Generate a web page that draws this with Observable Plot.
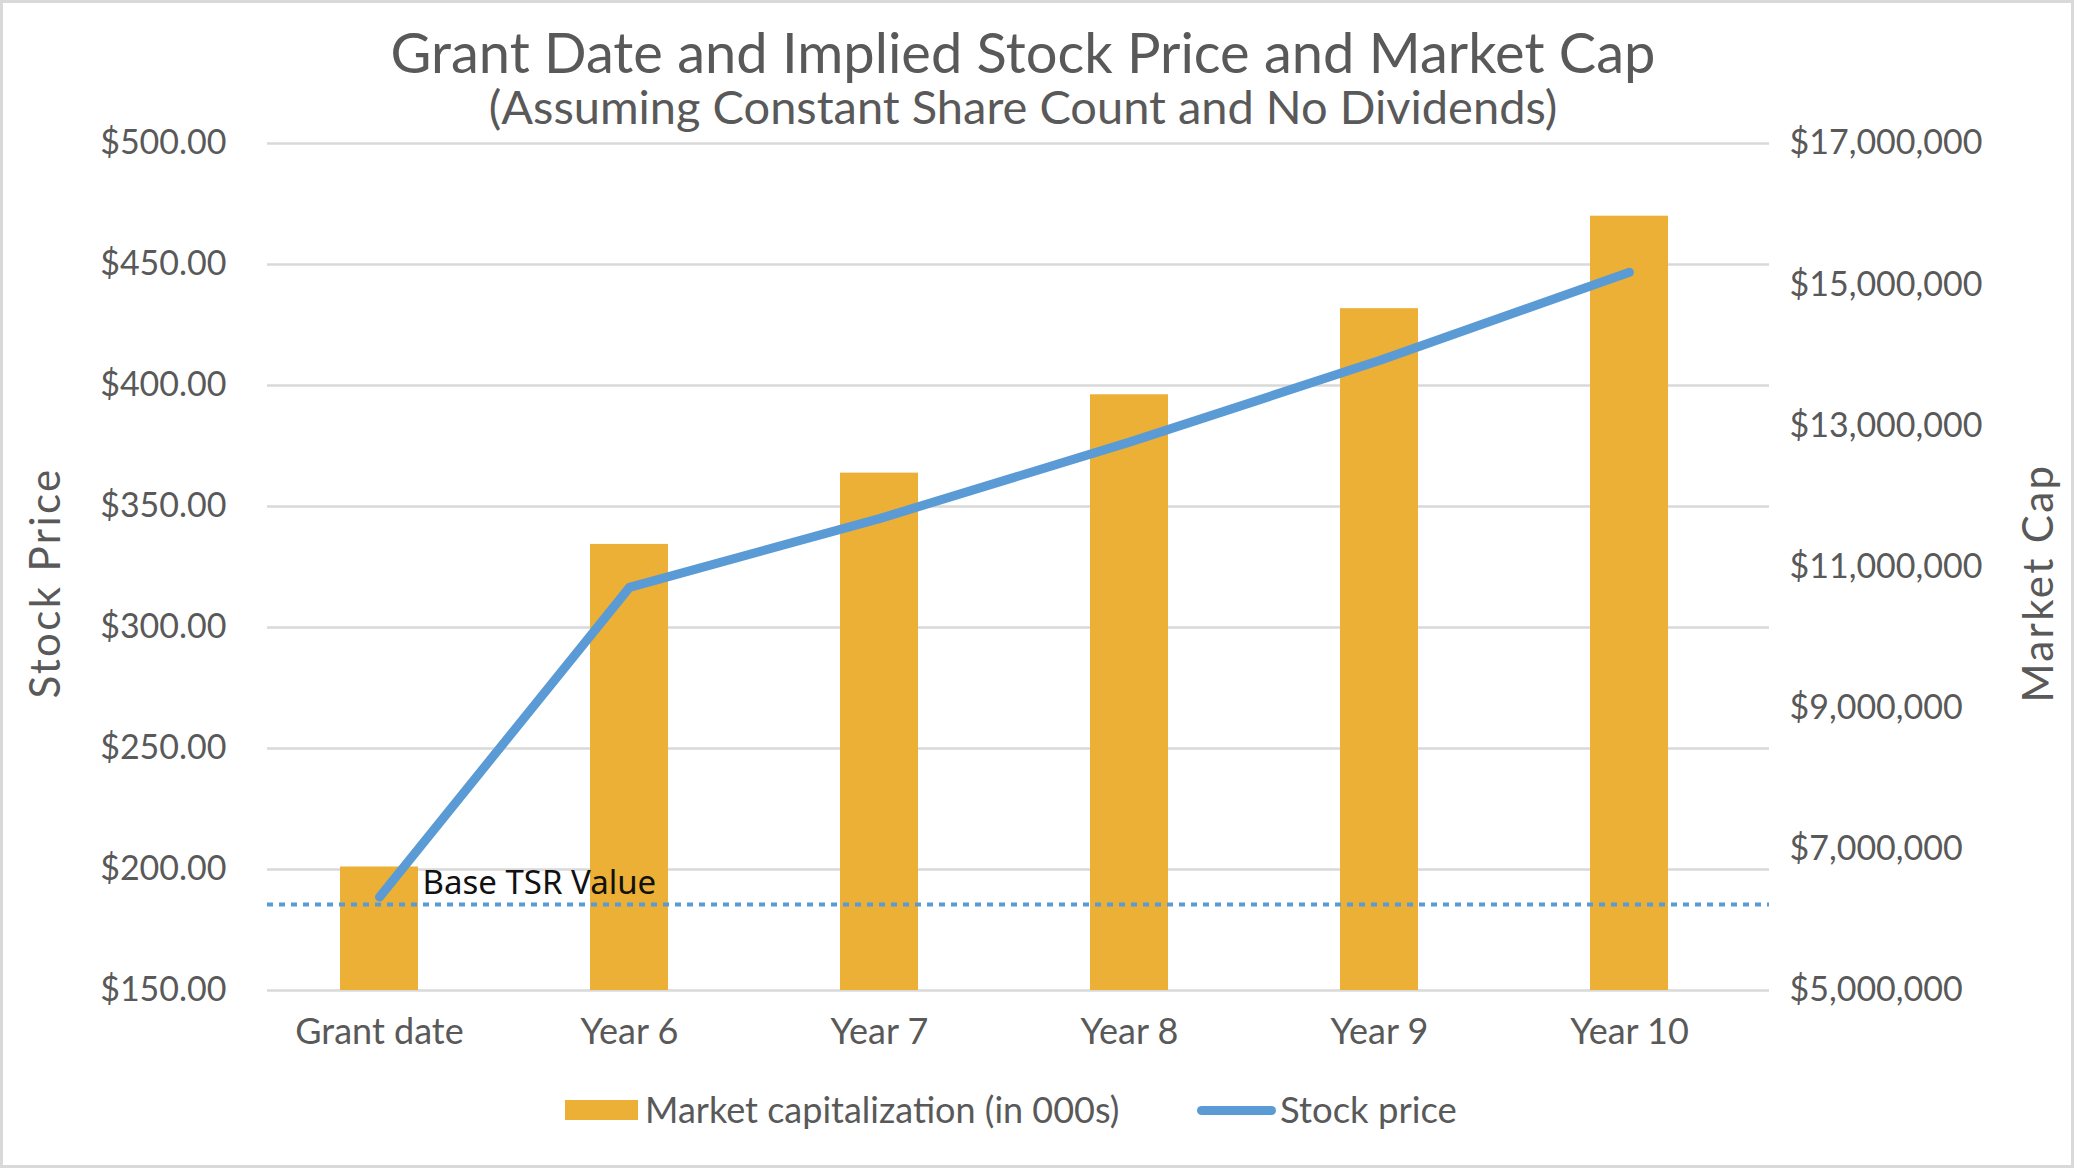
<!DOCTYPE html>
<html>
<head>
<meta charset="utf-8">
<script src="https://cdn.jsdelivr.net/npm/d3@7"></script>
<script src="https://cdn.jsdelivr.net/npm/@observablehq/plot@0.6"></script>
<style>
  body { margin: 0; background: #fff; }
  #wrap { position: relative; width: 2074px; height: 1168px; overflow: hidden; font-family: Lato, sans-serif; color: #595959; background: #fff; }
  #chart { position: absolute; left: 0; top: 0; }
  .abs { position: absolute; white-space: nowrap; line-height: 1; }
  .center { left: 0; width: 2046px; text-align: center; line-height: 0.9; }
  .rot { transform: translate(-50%, -50%) rotate(-90deg); letter-spacing: 2.4px; }
  #border { position: absolute; left: 0; top: 0; width: 2074px; height: 1168px; box-sizing: border-box; border: 3px solid #d9d9d9; pointer-events: none; }
</style>
</head>
<body>
<div id="wrap">
  <div id="chart"></div>
  <div class="abs center" id="title" style="top:27px;font-size:56px;">Grant Date and Implied Stock Price and Market Cap</div>
  <div class="abs center" id="subtitle" style="top:85px;font-size:47px;">(Assuming Constant Share Count and No Dividends)</div>
  <div class="abs rot" id="ylabL" style="left:44px;top:583px;font-size:42px;">Stock Price</div>
  <div class="abs rot" id="ylabR" style="left:2037px;top:583px;font-size:42px;">Market Cap</div>
  <div id="legend"></div>
  <div id="border"></div>
</div>
<script>
// ---- data ----
const categories = ["Grant date", "Year 6", "Year 7", "Year 8", "Year 9", "Year 10"];
const marketCap = [6750000, 11320000, 12330000, 13440000, 14660000, 15970000]; // Market capitalization (in 000s)
const stockPrice = [188.6, 316.6, 345.0, 376.6, 410.3, 446.8];
const baseTSRValue = 185.5;
const baseTSRLabel = "Base TSR Value";
const priceTicks = [150, 200, 250, 300, 350, 400, 450, 500];
const capTicks = [5000000, 7000000, 9000000, 11000000, 13000000, 15000000, 17000000];
const seriesNames = ["Market capitalization (in 000s)", "Stock price"];

const barColor = "#EBB035";
const lineColor = "#5B9BD5";

const priceDomain = [priceTicks[0], priceTicks[priceTicks.length - 1]];
const capDomain = [capTicks[0], capTicks[capTicks.length - 1]];
const capToPrice = d3.scaleLinear().domain(capDomain).range(priceDomain);

const rows = categories.map((c, i) => ({category: c, cap: marketCap[i], price: stockPrice[i]}));

const chart = Plot.plot({
  width: 2074,
  height: 1168,
  marginLeft: 267,
  marginRight: 305,
  marginTop: 143,
  marginBottom: 178,
  style: {fontFamily: "Lato, sans-serif", fontSize: "34px", color: "#595959", background: "transparent", overflow: "visible"},
  x: {type: "band", domain: categories, range: [252, 1756], paddingInner: 0.689, paddingOuter: 0.3445},
  y: {domain: priceDomain},
  marks: [
    Plot.ruleY(priceTicks, {stroke: "#D9D9D9", strokeWidth: 2.5}),
    Plot.barY(rows, {x: "category", y1: () => capToPrice(capDomain[0]), y2: d => capToPrice(d.cap), fill: barColor}),
    Plot.ruleY([baseTSRValue], {stroke: lineColor, strokeWidth: 4, strokeDasharray: "6,6"}),
    Plot.line(rows, {x: "category", y: "price", stroke: lineColor, strokeWidth: 9, strokeLinecap: "round", strokeLinejoin: "round"}),
    Plot.text([baseTSRLabel], {x: () => categories[0], y: () => baseTSRValue, text: d => d, textAnchor: "start", dx: 43, dy: -21, fill: "#111", fontSize: 33, fontFamily: "Noto Sans, sans-serif"}),
    Plot.axisY({anchor: "left", ticks: priceTicks, tickSize: 0, tickPadding: 41, tickFormat: d => "$" + d.toFixed(2), label: null}),
    Plot.axisY({anchor: "right", ticks: capTicks.map(capToPrice), tickSize: 0, tickPadding: 20, tickFormat: v => "$" + d3.format(",")(Math.round(capToPrice.invert(v) / 1000) * 1000), label: null}),
    Plot.axisX({tickSize: 0, tickPadding: 28, fontSize: 36, label: null})
  ]
});
document.getElementById("chart").appendChild(chart);

// ---- legend ----
const legend = document.getElementById("legend");
legend.innerHTML = `
  <div class="abs" style="left:565px;top:1100px;width:73px;height:20px;background:${barColor};"></div>
  <div class="abs" style="left:645px;top:1091px;font-size:36px;">${seriesNames[0]}</div>
  <div class="abs" style="left:1197px;top:1106px;width:79px;height:9px;border-radius:5px;background:${lineColor};"></div>
  <div class="abs" style="left:1280px;top:1091px;font-size:36.5px;">${seriesNames[1]}</div>
`;
</script>
</body>
</html>
